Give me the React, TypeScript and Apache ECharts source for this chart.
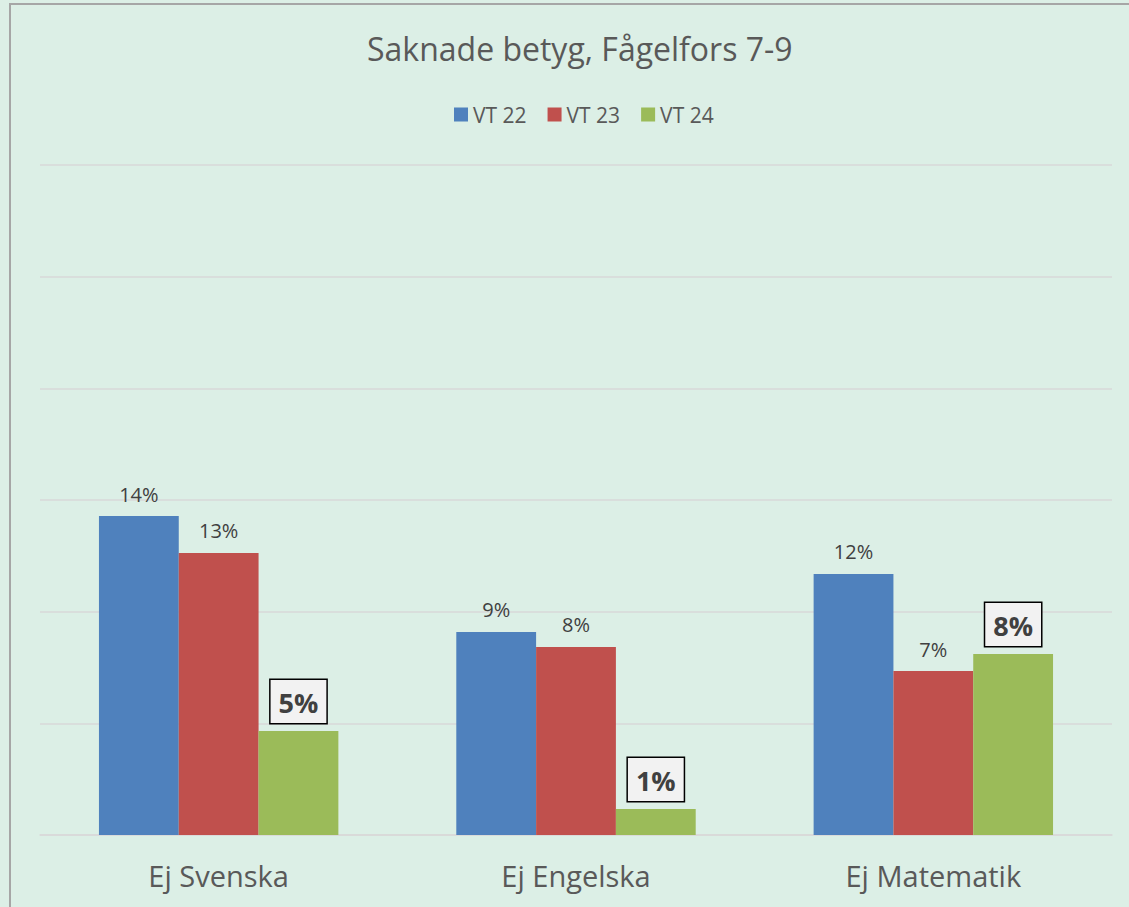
import React, { useEffect, useRef } from "react";
import * as echarts from "echarts";

const categories = ["Ej Svenska", "Ej Engelska", "Ej Matematik"];
const seriesNames = ["VT 22", "VT 23", "VT 24"];
const vt22 = [14.28, 9.09, 11.69];
const vt23 = [12.63, 8.42, 7.34];
const vt24 = [4.66, 1.16, 8.1];
const colors = ["#4F81BD", "#C0504D", "#9BBB59"];
const FONT = "'Open Sans', 'Noto Sans', sans-serif";

export default function App() {
  const ref = useRef<HTMLDivElement>(null);
  useEffect(() => {
    document.body.style.margin = "0";
    const chart = echarts.init(ref.current!, null, { renderer: "svg" });
    const fmt = (p: any) => Math.round(p.value) + "%";
    const normalLabel = {
      show: true,
      position: "top",
      distance: 12,
      formatter: fmt,
      fontSize: 20,
      color: "#404040",
      fontFamily: FONT,
    };
    const boxLabel = {
      show: true,
      position: "top",
      distance: 8,
      formatter: fmt,
      fontSize: 27,
      fontWeight: "bold",
      color: "#404040",
      fontFamily: FONT,
      backgroundColor: "#F2F2F2",
      borderColor: "#000000",
      borderWidth: 1.5,
      padding: [9, 8, 7, 8],
    };
    const data = [vt22, vt23, vt24];
    chart.setOption({
      animation: false,
      backgroundColor: "#DCEFE6",
      textStyle: { fontFamily: FONT },
      title: {
        text: "Saknade betyg, Fågelfors 7-9",
        left: 362,
        top: 27,
        textStyle: { fontSize: 32, fontWeight: "normal", color: "#595959", fontFamily: FONT },
      },
      legend: {
        top: 99,
        left: 449,
        itemWidth: 14,
        itemHeight: 14,
        itemGap: 21,
        icon: "rect",
        textStyle: { fontSize: 21, color: "#595959", fontFamily: FONT },
        data: seriesNames,
      },
      graphic: [
        {
          type: "rect",
          shape: { x: 10, y: 4, width: 1300, height: 1000 },
          style: { fill: "none", stroke: "#A6A6A6", lineWidth: 2 },
          silent: true,
        },
      ],
      grid: { left: 40, right: 17, top: 165, bottom: 72, containLabel: false },
      xAxis: {
        type: "category",
        data: categories,
        axisLine: { show: true, lineStyle: { color: "#D9D9D9", width: 1.5 } },
        axisTick: { show: false },
        axisLabel: { fontSize: 29, color: "#595959", margin: 26, fontFamily: FONT },
      },
      yAxis: {
        type: "value",
        min: 0,
        max: 30,
        interval: 5,
        axisLabel: { show: false },
        axisLine: { show: false },
        axisTick: { show: false },
        splitLine: { lineStyle: { color: "#D9D9D9", width: 1.5 } },
      },
      series: seriesNames.map((name, i) => ({
        name,
        type: "bar",
        data: data[i],
        barGap: "0%",
        barCategoryGap: "33%",
        itemStyle: { color: colors[i] },
        label: i === 2 ? boxLabel : normalLabel,
      })),
    });
    return () => chart.dispose();
  }, []);
  return <div ref={ref} style={{ width: 1129, height: 907 }} />;
}
